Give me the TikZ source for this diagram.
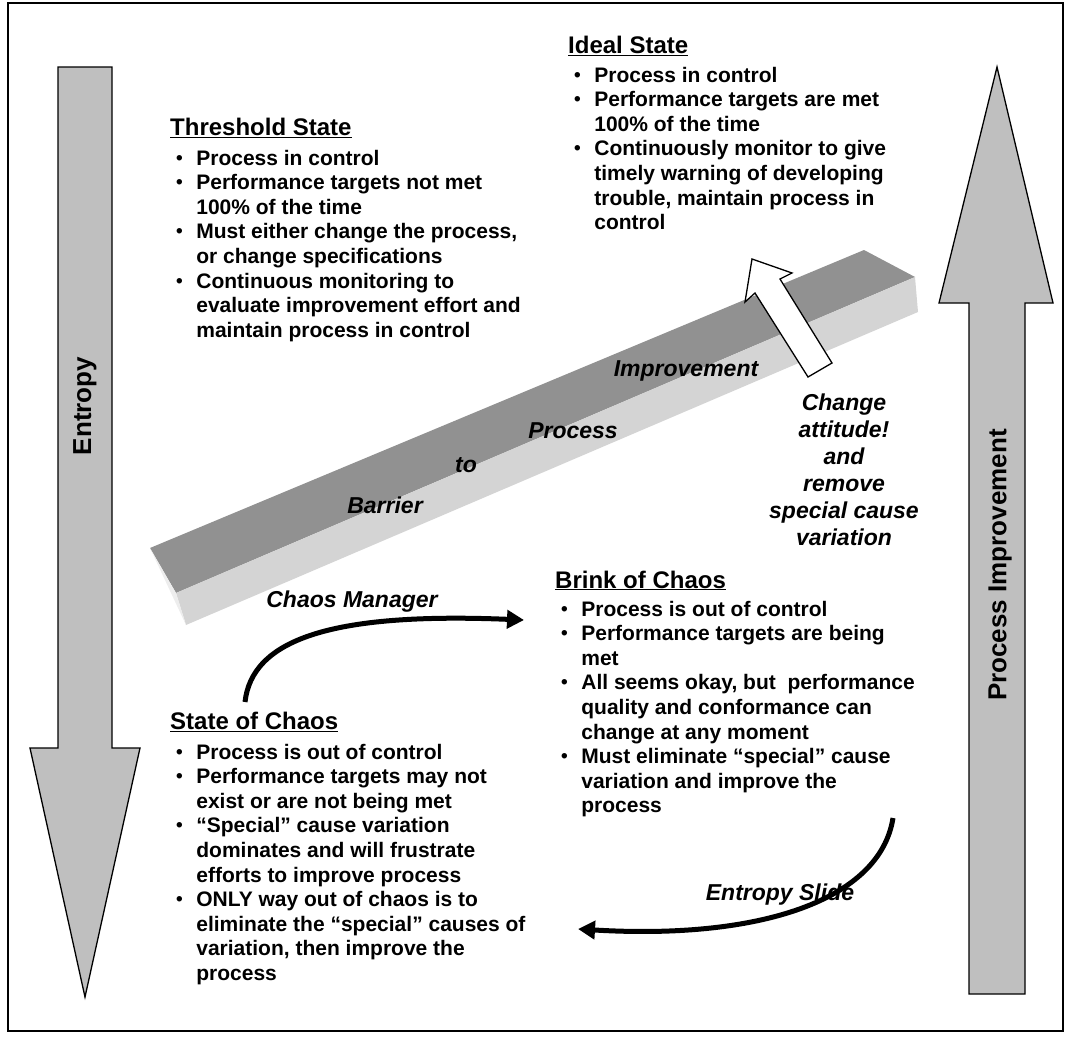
\documentclass[tikz,border=0pt]{standalone}
\usepackage{fontspec}
\setmainfont{Liberation Sans}
\usetikzlibrary{arrows.meta}
\definecolor{bartop}{gray}{0.57}
\definecolor{barfront}{gray}{0.83}
\definecolor{barend}{gray}{0.93}
\definecolor{sidegray}{gray}{0.75}
\newcommand{\bul}{\raisebox{1pt}{\fontsize{19}{19}\selectfont\textbullet}}
\tikzset{
  heading/.style={anchor=base west,inner sep=0pt,font=\fontsize{24}{28}\selectfont\bfseries},
  itemlist/.style={anchor=base west,inner sep=0pt,font=\fontsize{21}{24.6}\selectfont\bfseries},
  tag/.style={inner sep=0pt,font=\fontsize{23}{27}\selectfont\bfseries\itshape},
  sidelabel/.style={inner sep=0pt,rotate=90,font=\fontsize{26}{30}\selectfont\bfseries},
  sidearrow/.style={draw=black,line width=1.3pt,fill=sidegray,line join=miter},
  slide/.style={line width=5pt,-{Triangle[length=17pt,width=18pt]}}
}
\newenvironment{bullets}{\begin{tabular}[t]{@{\hspace{6pt}}l@{\hspace{13.5pt}}l@{}}}{\end{tabular}}
\begin{document}
\begin{tikzpicture}[x=1pt,y=-1pt,>=Latex]
  \useasboundingbox (0,0) rectangle (1065,1036);
  \draw[line width=1.5pt] (8,3) rectangle (1063,1031);

  \draw[sidearrow] (58,67) -- (112,67) -- (112,748) -- (140,748) -- (85,997)
    -- (30,748) -- (58,748) -- cycle;
  \node[sidelabel] (entropy) at (85,406) {Entropy};
  \draw[sidearrow] (969,994) -- (969,303) -- (939,303) -- (997,67) -- (1053,303)
    -- (1025,303) -- (1025,994) -- cycle;
  \node[sidelabel] (improve) at (1000,565) {Process Improvement};

  \fill[bartop] (150,548) -- (864,250) -- (915,277) -- (176,593) -- cycle;
  \fill[barfront] (176,593) -- (915,277) -- (918,312) -- (186,625) -- cycle;
  \fill[barend] (150,548) -- (176,593) -- (186,625) -- cycle;
  \node[tag] (barrier) at (385,505) {Barrier};
  \node[tag] (to) at (466,465) {to};
  \node[tag] (process) at (573,431) {Process};
  \node[tag] (improvement) at (686,371) {Improvement};

  \draw[line width=1.3pt,fill=white,line join=miter] (752,259) -- (792,273) -- (780,279)
    -- (832,363) -- (808,377) -- (755,293) -- (745,302) -- cycle;
  \node[tag,align=center] (attitude) at (844,470)
    {Change\\attitude!\\and\\remove\\special cause\\variation};

  \node[heading] (ideal) at (568,53.5) {\underline{Ideal State}};
  \node[itemlist] (ideallist) at (568,82) {\begin{bullets}
    \bul & Process in control\\
    \bul & Performance targets are met\\
         & 100\% of the time\\
    \bul & Continuously monitor to give\\
         & timely warning of developing\\
         & trouble, maintain process in\\
         & control
  \end{bullets}};

  \node[heading] (threshold) at (170,135.5) {\underline{Threshold State}};
  \node[itemlist] (thresholdlist) at (170,165) {\begin{bullets}
    \bul & Process in control\\
    \bul & Performance targets not met\\
         & 100\% of the time\\
    \bul & Must either change the process,\\
         & or change specifications\\
    \bul & Continuous monitoring to\\
         & evaluate improvement effort and\\
         & maintain process in control
  \end{bullets}};

  \node[heading] (brink) at (555,588) {\underline{Brink of Chaos}};
  \node[itemlist] (brinklist) at (555,616) {\begin{bullets}
    \bul & Process is out of control\\
    \bul & Performance targets are being\\
         & met\\
    \bul & All seems okay, but\ \ performance\\
         & quality and conformance can\\
         & change at any moment\\
    \bul & Must eliminate “special” cause\\
         & variation and improve the\\
         & process
  \end{bullets}};

  \node[heading] (chaos) at (170,729.5) {\underline{State of Chaos}};
  \node[itemlist] (chaoslist) at (170,759) {\begin{bullets}
    \bul & Process is out of control\\
    \bul & Performance targets may not\\
         & exist or are not being met\\
    \bul & “Special” cause variation\\
         & dominates and will frustrate\\
         & efforts to improve process\\
    \bul & ONLY way out of chaos is to\\
         & eliminate the “special” causes of\\
         & variation, then improve the\\
         & process
  \end{bullets}};

  \coordinate (cmfrom) at (245,702);
  \coordinate (cmto) at (524,620);
  \draw[slide] (cmfrom) .. controls (252,640) and (330,612) .. (cmto);
  \node[tag] (manager) at (352,602) {Chaos Manager};

  \coordinate (esfrom) at (893,818);
  \coordinate (esto) at (578,929);
  \draw[slide] (esfrom) .. controls (880,900) and (760,940) .. (esto);
  \node[tag] (slidelabel) at (780,895) {Entropy Slide};
\end{tikzpicture}
\end{document}
